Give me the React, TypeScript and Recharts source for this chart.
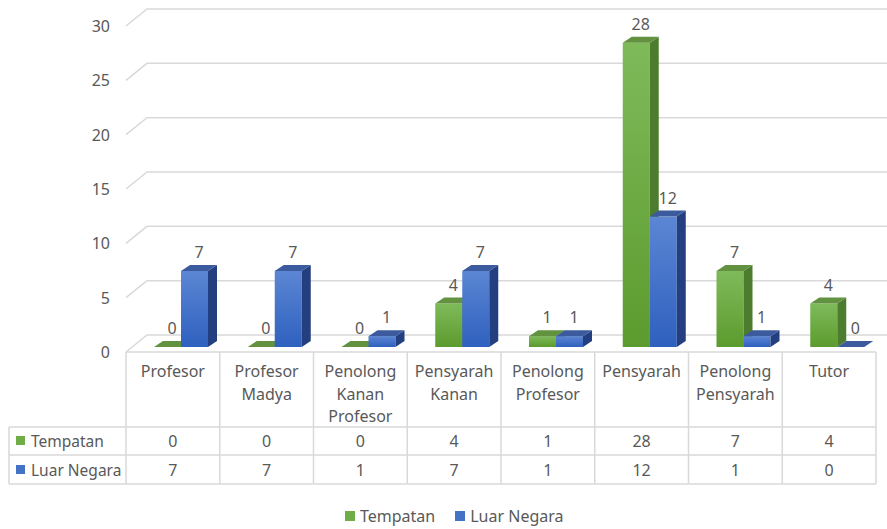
import React from "react";
import { Bar, BarChart, CartesianGrid, LabelList, Legend, XAxis, YAxis } from "recharts";

const categories = [
  "Profesor",
  "Profesor Madya",
  "Penolong Kanan Profesor",
  "Pensyarah Kanan",
  "Penolong Profesor",
  "Pensyarah",
  "Penolong Pensyarah",
  "Tutor",
];
const seriesNames = ["Tempatan", "Luar Negara"];
const tempatan = [0, 0, 0, 4, 1, 28, 7, 4];
const luarNegara = [7, 7, 1, 7, 1, 12, 1, 0];
const yTicks = [0, 5, 10, 15, 20, 25, 30];

const data = categories.map((name, i) => ({
  name,
  tempatan: tempatan[i],
  luarNegara: luarNegara[i],
}));

const FONT = "'Noto Sans', sans-serif";
const TEXT = "#595959";
const GRID = "#d9d9d9";
const W = 887;
const H = 529;
const LEFT = 134;
const RIGHT = 3;
const BAND = (W - LEFT - RIGHT) / categories.length;

// bar plane -> front plane / back wall offsets (fake 3d)
const FX = -8;
const FY = 5;
const BX = 13;
const BY = -12;
const DX = 9;
const DY = 6;

// table rows
const HEAD_TOP = 352;
const ROW1 = 427;
const ROW2 = 455;
const ROW3 = 484;
const TABLE_LEFT = 9;

const GREEN = { front: "url(#gGreen)", side: "#4d7c2e", top: "#62913f", solid: "#70ad47" };
const BLUE = { front: "url(#gBlue)", side: "#233f80", top: "#3b5b9e", solid: "#4472c4" };

function bar3d(c: typeof GREEN) {
  return (props: any) => {
    const { x, y, width, height } = props;
    if (x == null || y == null) return <g />;
    const h = Math.max(0, height);
    const w = width;
    return (
      <g>
        {h > 0 && <rect x={x} y={y} width={w} height={h} fill={c.front} />}
        {h > 0 && (
          <polygon
            points={`${x + w},${y} ${x + w + DX},${y - DY} ${x + w + DX},${y + h - DY} ${x + w},${y + h}`}
            fill={c.side}
          />
        )}
        <polygon
          points={`${x},${y} ${x + DX},${y - DY} ${x + w + DX},${y - DY} ${x + w},${y}`}
          fill={c.top}
        />
      </g>
    );
  };
}

function BarLabel(props: any) {
  const { x, y, width, value } = props;
  return (
    <text
      x={x + width / 2 + DX / 2}
      y={y - DY - 7}
      textAnchor="middle"
      fontFamily={FONT}
      fontSize={16}
      fill={TEXT}
    >
      {value}
    </text>
  );
}

function YTick(props: any) {
  const { y, payload } = props;
  return (
    <text x={110} y={y + FY + 6} textAnchor="end" fontFamily={FONT} fontSize={16} fill={TEXT}>
      {payload.value}
    </text>
  );
}

function TableColumn(props: any) {
  const { x, payload } = props;
  const i = categories.indexOf(payload.value);
  const cx = x + FX;
  const l = cx - BAND / 2;
  const r = cx + BAND / 2;
  const words = categories[i].split(" ");
  const line = { stroke: GRID, strokeWidth: 1.5 };
  const txt = { fontFamily: FONT, fontSize: 16, fill: TEXT };
  return (
    <g>
      <line x1={l} y1={HEAD_TOP} x2={r} y2={HEAD_TOP} {...line} />
      <line x1={l} y1={ROW1} x2={r} y2={ROW1} {...line} />
      <line x1={l} y1={ROW2} x2={r} y2={ROW2} {...line} />
      <line x1={l} y1={ROW3} x2={r} y2={ROW3} {...line} />
      <line x1={r} y1={HEAD_TOP} x2={r} y2={ROW3} {...line} />
      {i === 0 && (
        <g>
          <line x1={l} y1={HEAD_TOP} x2={l} y2={ROW3} {...line} />
          <line x1={TABLE_LEFT} y1={ROW1} x2={l} y2={ROW1} {...line} />
          <line x1={TABLE_LEFT} y1={ROW2} x2={l} y2={ROW2} {...line} />
          <line x1={TABLE_LEFT} y1={ROW3} x2={l} y2={ROW3} {...line} />
          <line x1={TABLE_LEFT} y1={ROW1} x2={TABLE_LEFT} y2={ROW3} {...line} />
          <rect x={16} y={436} width={9} height={9} fill={GREEN.solid} />
          <text x={31} y={447} {...txt} fontSize={15.5}>{seriesNames[0]}</text>
          <rect x={16} y={465} width={9} height={9} fill={BLUE.solid} />
          <text x={31} y={476} {...txt} fontSize={15.5}>{seriesNames[1]}</text>
        </g>
      )}
      {words.map((w, k) => (
        <text key={k} x={cx} y={377 + k * 22.5} textAnchor="middle" {...txt}>
          {w}
        </text>
      ))}
      <text x={cx} y={447} textAnchor="middle" {...txt}>{tempatan[i]}</text>
      <text x={cx} y={476} textAnchor="middle" {...txt}>{luarNegara[i]}</text>
    </g>
  );
}

function GridLine(props: any) {
  const { x1, y1, index } = props;
  const y = y1;
  return (
    <polyline
      key={`g-${index}-${y}`}
      points={`${x1 + FX},${y + FY} ${x1 + BX},${y + BY} ${W},${y + BY}`}
      fill="none"
      stroke={GRID}
      strokeWidth={1.5}
    />
  );
}

function LegendContent(props: any) {
  const items = [...(props.payload || [])].sort(
    (a: any, b: any) => seriesNames.indexOf(a.value) - seriesNames.indexOf(b.value)
  );
  return (
    <div style={{ display: "flex", paddingLeft: 345, fontFamily: FONT, fontSize: 16, color: TEXT }}>
      {items.map((it: any) => (
        <div key={it.value} style={{ display: "flex", alignItems: "center", marginRight: 20 }}>
          <span style={{ width: 10, height: 10, background: it.color, marginRight: 5 }} />
          <span>{it.value}</span>
        </div>
      ))}
    </div>
  );
}

export default function App() {
  return (
    <div style={{ position: "absolute", left: 0, top: 0, width: W, height: H, background: "#fff" }}>
      <BarChart
        width={W}
        height={H}
        data={data}
        margin={{ top: 21, right: RIGHT, bottom: 0, left: 0 }}
        barGap={0}
      >
        <defs>
          <linearGradient id="gGreen" x1="0" y1="0" x2="0" y2="1">
            <stop offset="0%" stopColor="#7fba5a" />
            <stop offset="100%" stopColor="#5c9b2e" />
          </linearGradient>
          <linearGradient id="gBlue" x1="0" y1="0" x2="0" y2="1">
            <stop offset="0%" stopColor="#5c86d4" />
            <stop offset="100%" stopColor="#2e60be" />
          </linearGradient>
        </defs>
        <CartesianGrid vertical={false} horizontal={GridLine as any} />
        <XAxis
          dataKey="name"
          height={182}
          axisLine={false}
          tickLine={false}
          interval={0}
          tick={<TableColumn />}
        />
        <YAxis
          width={LEFT}
          domain={[0, 30]}
          ticks={yTicks}
          axisLine={false}
          tickLine={false}
          tick={<YTick />}
        />
        <Legend
          layout="horizontal"
          verticalAlign="middle"
          align="center"
          wrapperStyle={{ top: 505, left: 0, width: W }}
          content={<LegendContent />}
        />
        <Bar
          dataKey="tempatan"
          name={seriesNames[0]}
          fill={GREEN.solid}
          barSize={27}
          shape={bar3d(GREEN)}
          isAnimationActive={false}
        >
          <LabelList dataKey="tempatan" content={<BarLabel />} />
        </Bar>
        <Bar
          dataKey="luarNegara"
          name={seriesNames[1]}
          fill={BLUE.solid}
          barSize={27}
          shape={bar3d(BLUE)}
          isAnimationActive={false}
        >
          <LabelList dataKey="luarNegara" content={<BarLabel />} />
        </Bar>
      </BarChart>
    </div>
  );
}
